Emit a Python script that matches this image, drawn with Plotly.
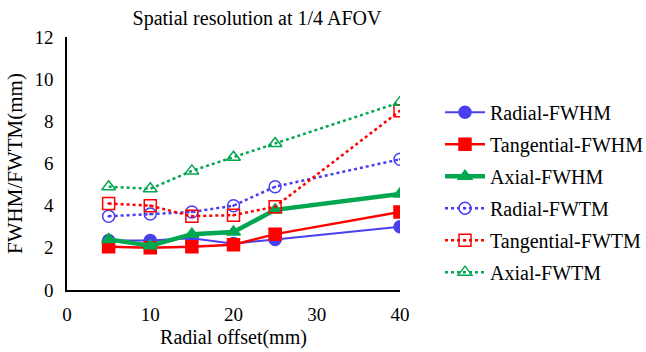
import plotly.graph_objects as go

x = [5, 10, 15, 20, 25, 40]
radial_fwhm = [2.35, 2.35, 2.45, 2.2, 2.4, 3.0]
tangential_fwhm = [2.05, 2.0, 2.05, 2.15, 2.65, 3.7]
axial_fwhm = [2.4, 2.1, 2.65, 2.75, 3.8, 4.55]
radial_fwtm = [3.5, 3.6, 3.7, 4.0, 4.9, 6.2]
tangential_fwtm = [4.1, 4.0, 3.5, 3.55, 3.95, 8.5]
axial_fwtm = [4.9, 4.8, 5.65, 6.3, 6.95, 8.9]

blue = "#4a3ff0"
red = "#ff0000"
green = "#00a650"

series = [
    ("Radial-FWHM", radial_fwhm, blue, "solid", 2, "circle", 12),
    ("Tangential-FWHM", tangential_fwhm, red, "solid", 2.5, "square", 12),
    ("Axial-FWHM", axial_fwhm, green, "solid", 4.5, "triangle-up", 12),
    ("Radial-FWTM", radial_fwtm, blue, "dot", 2.5, "circle-open-dot", 12),
    ("Tangential-FWTM", tangential_fwtm, red, "dot", 2.5, "square-open-dot", 12),
    ("Axial-FWTM", axial_fwtm, green, "dot", 2.5, "triangle-up-open", 12),
]

fig = go.Figure()
for name, y, c, dash, w, sym, size in series:
    fig.add_trace(go.Scatter(
        x=x, y=y, name=name, mode="lines+markers", legendgroup=name,
        line=dict(color=c, dash=dash, width=w),
        marker=dict(symbol=sym, size=size, color=c, line=dict(color=c, width=1.5)),
    ))

font = "Liberation Serif, Times New Roman, serif"
fig.update_layout(
    width=646, height=352,
    margin=dict(l=67, r=246, t=37, b=62, autoexpand=False),
    paper_bgcolor="white", plot_bgcolor="white",
    font=dict(family=font, size=19, color="black"),
    title=dict(text="Spatial resolution at 1/4 AFOV", x=257 / 646, xanchor="center",
               y=1 - 18 / 352, yanchor="middle", font=dict(size=20)),
    showlegend=True,
    legend=dict(xref="container", yref="paper", x=440 / 646, y=0.78,
                xanchor="left", yanchor="top",
                font=dict(size=20), tracegroupgap=3, itemwidth=40,
                bgcolor="rgba(0,0,0,0)"),
    xaxis=dict(range=[0, 40], tickvals=[0, 10, 20, 30, 40], showgrid=False,
               zeroline=False, showline=True, linecolor="black", linewidth=1.5,
               ticks="outside", ticklen=6, tickcolor="rgba(0,0,0,0)", automargin=False,
               title=dict(text="Radial offset(mm)", font=dict(size=20), standoff=6),
               tickfont=dict(size=19)),
    yaxis=dict(range=[0, 12], tickvals=[0, 2, 4, 6, 8, 10, 12], showgrid=False,
               zeroline=False, showline=True, linecolor="black", linewidth=1.5,
               ticks="outside", ticklen=8, tickcolor="rgba(0,0,0,0)", automargin=False,
               title=dict(text="FWHM/FWTM(mm)", font=dict(size=21), standoff=6),
               tickfont=dict(size=19)),
)

fig.write_html("out.html")
